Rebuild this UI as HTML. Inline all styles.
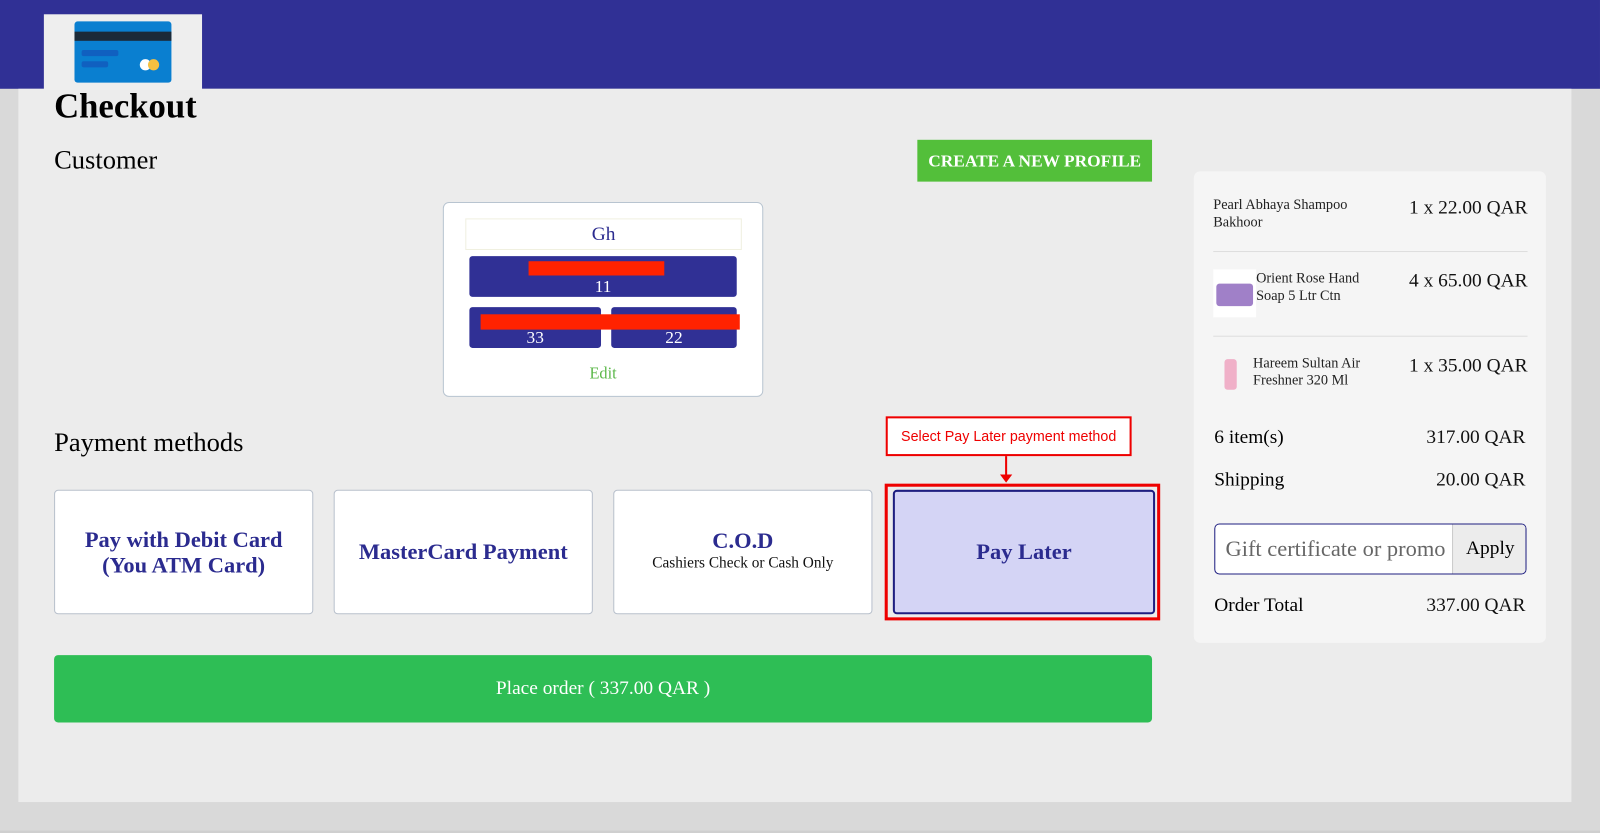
<!DOCTYPE html>
<html><head><meta charset="utf-8"><style>
*{margin:0;padding:0;box-sizing:border-box}
html,body{width:1600px;height:833px;overflow:hidden;background:#d9d9d9}
#w{width:1568px;height:817px;position:relative;transform:scale(1.0204);transform-origin:0 0;font-family:"Liberation Serif",serif;background:#d9d9d9}
.a{position:absolute}
.top{left:0;top:0;width:1568px;height:87px;background:#303095}
.main{left:18px;top:87px;width:1522px;height:699px;background:#ececec}
.bottom{left:0;top:814px;width:1568px;height:3px;background:#cfcfcf}
.pm{background:#fff;border:1px solid #b8c0cc;border-radius:4px;text-align:center;color:#2b2b8f;font-weight:bold;font-size:22px;display:flex;flex-direction:column;justify-content:center}
.blue{background:#303095;border-radius:3px;color:#fff;font-size:17px;text-align:center}
.red{background:#ff2200}
.t{font-size:14px;color:#222;line-height:17px}
.p{font-size:19px;color:#111;text-align:right}
</style></head><body><div id="w">
<div class="a top"></div>
<div class="a main"></div>
<div class="a bottom"></div>
<div class="a" style="left:43px;top:14px;width:155px;height:74px;background:#eee"></div>
<div class="a" style="left:73px;top:21px;width:95px;height:60px;background:#0a7fd0;border-radius:3px"></div>
<div class="a" style="left:73px;top:31px;width:95px;height:9px;background:#1b2a38"></div>
<div class="a" style="left:80px;top:49px;width:36px;height:6px;background:#1060c0;border-radius:2px"></div>
<div class="a" style="left:80px;top:60px;width:26px;height:6px;background:#1060c0;border-radius:2px"></div>
<div class="a" style="left:137px;top:58px;width:11px;height:11px;background:#fff;border-radius:50%"></div>
<div class="a" style="left:145px;top:58px;width:11px;height:11px;background:#f5c040;border-radius:50%"></div>
<div class="a" style="left:53px;top:86px;font-size:34px;font-weight:bold">Checkout</div>
<div class="a" style="left:53px;top:142px;font-size:26px">Customer</div>
<div class="a" style="left:899px;top:137px;width:230px;height:41px;background:#53bf3a;color:#fff;font-weight:bold;font-size:17px;line-height:41px;text-align:center">CREATE A NEW PROFILE</div>
<div class="a" style="left:434px;top:198px;width:314px;height:191px;background:#fff;border:1px solid #b8c4d0;border-radius:6px"></div>
<div class="a" style="left:456px;top:214px;width:271px;height:31px;border:1px solid #f0f0e0;color:#2b2b8f;font-size:19px;text-align:center;line-height:30px">Gh</div>
<div class="a blue" style="left:460px;top:251px;width:262px;height:40px;padding-top:20px">11</div>
<div class="a red" style="left:518px;top:256px;width:133px;height:14px"></div>
<div class="a blue" style="left:460px;top:301px;width:129px;height:40px;padding-top:20px">33</div>
<div class="a blue" style="left:599px;top:301px;width:123px;height:40px;padding-top:20px">22</div>
<div class="a red" style="left:471px;top:308px;width:254px;height:15px"></div>
<div class="a" style="left:434px;top:358px;width:314px;text-align:center;color:#5cb84a;font-size:16px">Edit</div>
<div class="a" style="left:53px;top:419px;font-size:26px">Payment methods</div>
<div class="a" style="left:868px;top:408px;width:241px;height:39px;border:2px solid #e00;background:#fff;color:#e00;font-family:'Liberation Sans',sans-serif;font-size:14px;line-height:35px;text-align:center">Select Pay Later payment method</div>
<div class="a" style="left:985px;top:447px;width:2px;height:22px;background:#e00"></div>
<div class="a" style="left:980px;top:465px;width:0;height:0;border-left:6px solid transparent;border-right:6px solid transparent;border-top:8px solid #e00"></div>
<div class="a pm" style="left:53px;top:480px;width:254px;height:122px;line-height:25px">Pay with Debit Card<br>(You ATM Card)</div>
<div class="a pm" style="left:327px;top:480px;width:254px;height:122px">MasterCard Payment</div>
<div class="a pm" style="left:601px;top:480px;width:254px;height:122px;line-height:22px">C.O.D<span style="font-size:15px;font-weight:normal;color:#111">Cashiers Check or Cash Only</span></div>
<div class="a" style="left:867px;top:474px;width:270px;height:134px;border:3px solid #e00"></div>
<div class="a pm" style="left:875px;top:480px;width:257px;height:122px;background:#d4d4f5;border:2px solid #1e1e80">Pay Later</div>
<div class="a" style="left:53px;top:642px;width:1076px;height:66px;background:#2ebe55;border-radius:4px;color:#fff;font-size:19px;text-align:center;line-height:66px">Place order ( 337.00 QAR )</div>
<div class="a" style="left:1170px;top:168px;width:345px;height:462px;background:#f5f5f5;border-radius:6px"></div>
<div class="a t" style="left:1189px;top:193px">Pearl Abhaya Shampoo<br>Bakhoor</div>
<div class="a p" style="left:1340px;top:193px;width:157px">1 x 22.00 QAR</div>
<div class="a" style="left:1189px;top:246px;width:308px;height:1px;background:#ddd"></div>
<div class="a" style="left:1189px;top:264px;width:42px;height:47px;background:#fff"></div>
<div class="a" style="left:1192px;top:278px;width:36px;height:22px;background:#a080c8;border-radius:3px"></div>
<div class="a t" style="left:1231px;top:265px">Orient Rose Hand<br>Soap 5 Ltr Ctn</div>
<div class="a p" style="left:1340px;top:265px;width:157px">4 x 65.00 QAR</div>
<div class="a" style="left:1189px;top:329px;width:308px;height:1px;background:#ddd"></div>
<div class="a" style="left:1200px;top:352px;width:12px;height:30px;background:#f0b0c8;border-radius:3px"></div>
<div class="a t" style="left:1228px;top:348px">Hareem Sultan Air<br>Freshner 320 Ml</div>
<div class="a p" style="left:1340px;top:348px;width:157px">1 x 35.00 QAR</div>
<div class="a" style="left:1190px;top:418px;font-size:19px">6 item(s)</div>
<div class="a p" style="left:1340px;top:418px;width:155px">317.00 QAR</div>
<div class="a" style="left:1190px;top:460px;font-size:19px">Shipping</div>
<div class="a p" style="left:1340px;top:460px;width:155px">20.00 QAR</div>
<div class="a" style="left:1190px;top:513px;width:306px;height:50px;border:1px solid #1e1e80;border-radius:5px;background:#fff;overflow:hidden">
<div class="a" style="left:10px;top:11px;font-size:22px;color:#666">Gift certificate or promo</div>
<div class="a" style="left:232px;top:0;width:74px;height:50px;background:#ececec;border-left:1px solid #ccc;font-size:19px;line-height:48px;text-align:center">Apply</div>
</div>
<div class="a" style="left:1190px;top:583px;font-size:19px">Order Total</div>
<div class="a p" style="left:1340px;top:583px;width:155px">337.00 QAR</div>
</div></body></html>
